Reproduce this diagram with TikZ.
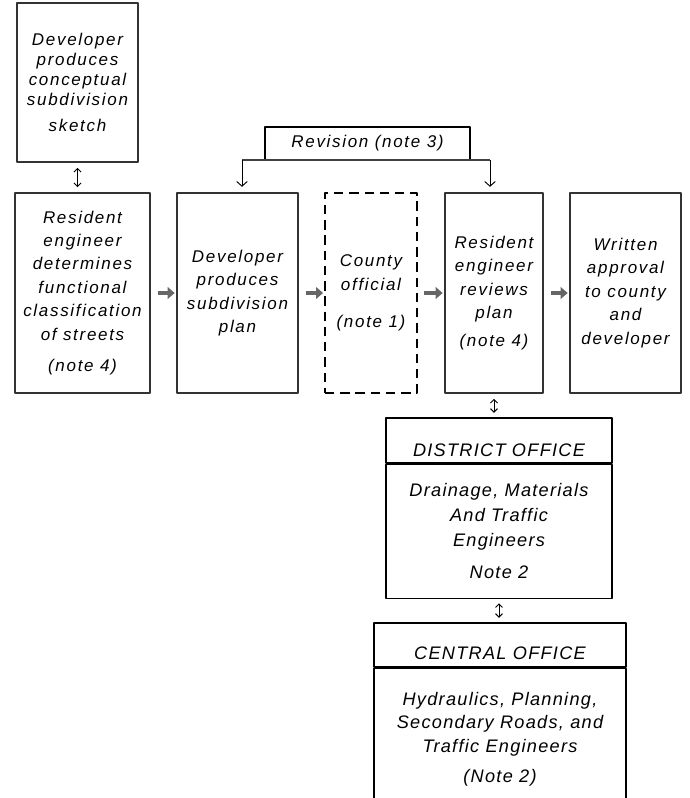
\documentclass[tikz,border=0pt]{standalone}
\usepackage{fontspec}
\newfontfamily\stagefont[LetterSpace=10]{Liberation Sans}
\newfontfamily\officefont[LetterSpace=7]{Liberation Sans}
\usetikzlibrary{arrows.meta}
\tikzset{every picture/.style={line width=0.75pt}}

\begin{document}
\begin{tikzpicture}[x=0.03cm, y=-0.03cm, font=\stagefont\itshape\fontsize{14.5}{20}\selectfont, line join=round,
  stagebox/.style={draw=black!80, line width=2pt, minimum height=6cm, align=center, inner sep=2pt},
  countybox/.style={draw, dash pattern=on 8pt off 5pt, line width=1.3pt, minimum height=6cm, align=center, inner sep=2pt},
  officebox/.style={draw, line width=0.9pt, align=center, inner sep=2pt, font=\officefont\itshape\fontsize{15.5}{20.5}\selectfont},
  flowarrow/.style={-{Triangle[length=6pt,width=10pt]}, line width=4pt, draw=black!60, shorten <=0.2cm, shorten >=1pt},
  linkarrow/.style={{Straight Barb[length=3pt,width=6pt]}-{Straight Barb[length=3pt,width=6pt]}, line width=0.8pt, shorten <=4pt, shorten >=4pt},
  revarrow/.style={-{Straight Barb[length=4pt,width=9pt]}, line width=0.8pt, shorten >=0.15cm}]
\useasboundingbox (0,0) rectangle (690,798);

\node[stagebox, minimum width=3.63cm, minimum height=4.77cm, font=\stagefont\itshape\fontsize{14.5}{17}\selectfont] (sketch) at (77.5,82.5) {Developer\\ produces\\ conceptual\\ subdivision\\[5pt] sketch};
\node[stagebox, minimum width=4.05cm] (classify) at (82.5,293) {Resident\\ engineer\\ determines\\ functional\\ classification\\ of streets\\[7pt] (note 4)};
\node[stagebox, minimum width=3.63cm] (devplan) at (237.5,293) {Developer\\ produces\\ subdivision\\ plan};
\node[countybox, minimum width=2.76cm] (county) at (371,293) {County\\ official\\[12pt] (note 1)};
\node[stagebox, minimum width=2.94cm] (review) at (494,293) {Resident\\ engineer\\ reviews\\ plan\\[4pt] (note 4)};
\node[stagebox, minimum width=3.33cm] (approval) at (625.5,293) {Written\\ approval\\ to county\\ and\\ developer};

\node[draw, line width=0.9pt, minimum width=6.15cm, minimum height=0.99cm] (revision) at (367.5,143.5) {Revision (note 3)};
\coordinate (revL) at (242,160);
\coordinate (revR) at (490,160);
\draw[line width=1.8pt, black!75] (revL) -- (revR);
\draw[revarrow] (revL) -- (revL |- devplan.north);
\draw[revarrow] (revR) -- (revR |- review.north);

\node[officebox, minimum width=6.78cm, minimum height=1.35cm, text height=0.96cm, text depth=0pt] (disthead) at (499,440.5) {DISTRICT OFFICE};
\node[officebox, minimum width=6.78cm, minimum height=4.02cm, anchor=north] (distbody) at (disthead.south) {Drainage, Materials\\[1pt] And Traffic\\[1pt] Engineers\\[7pt] Note 2};
\node[officebox, minimum width=7.56cm, minimum height=1.32cm, text height=0.84cm, text depth=0pt] (centhead) at (500,645) {CENTRAL OFFICE};
\node[officebox, minimum width=7.56cm, minimum height=4.29cm, anchor=north] (centbody) at (centhead.south) {Hydraulics, Planning,\\[-1pt] Secondary Roads, and\\ Traffic Engineers\\[5pt] (Note 2)};

\draw[linkarrow] (sketch.south) -- (sketch.south |- classify.north);
\draw[flowarrow] (classify) -- (devplan);
\draw[flowarrow] (devplan) -- (county);
\draw[flowarrow] (county) -- (review);
\draw[flowarrow] (review) -- (approval);
\draw[linkarrow] (review.south) -- (review.south |- disthead.north);
\draw[linkarrow] (distbody.south) -- (distbody.south |- centhead.north);
\end{tikzpicture}
\end{document}
